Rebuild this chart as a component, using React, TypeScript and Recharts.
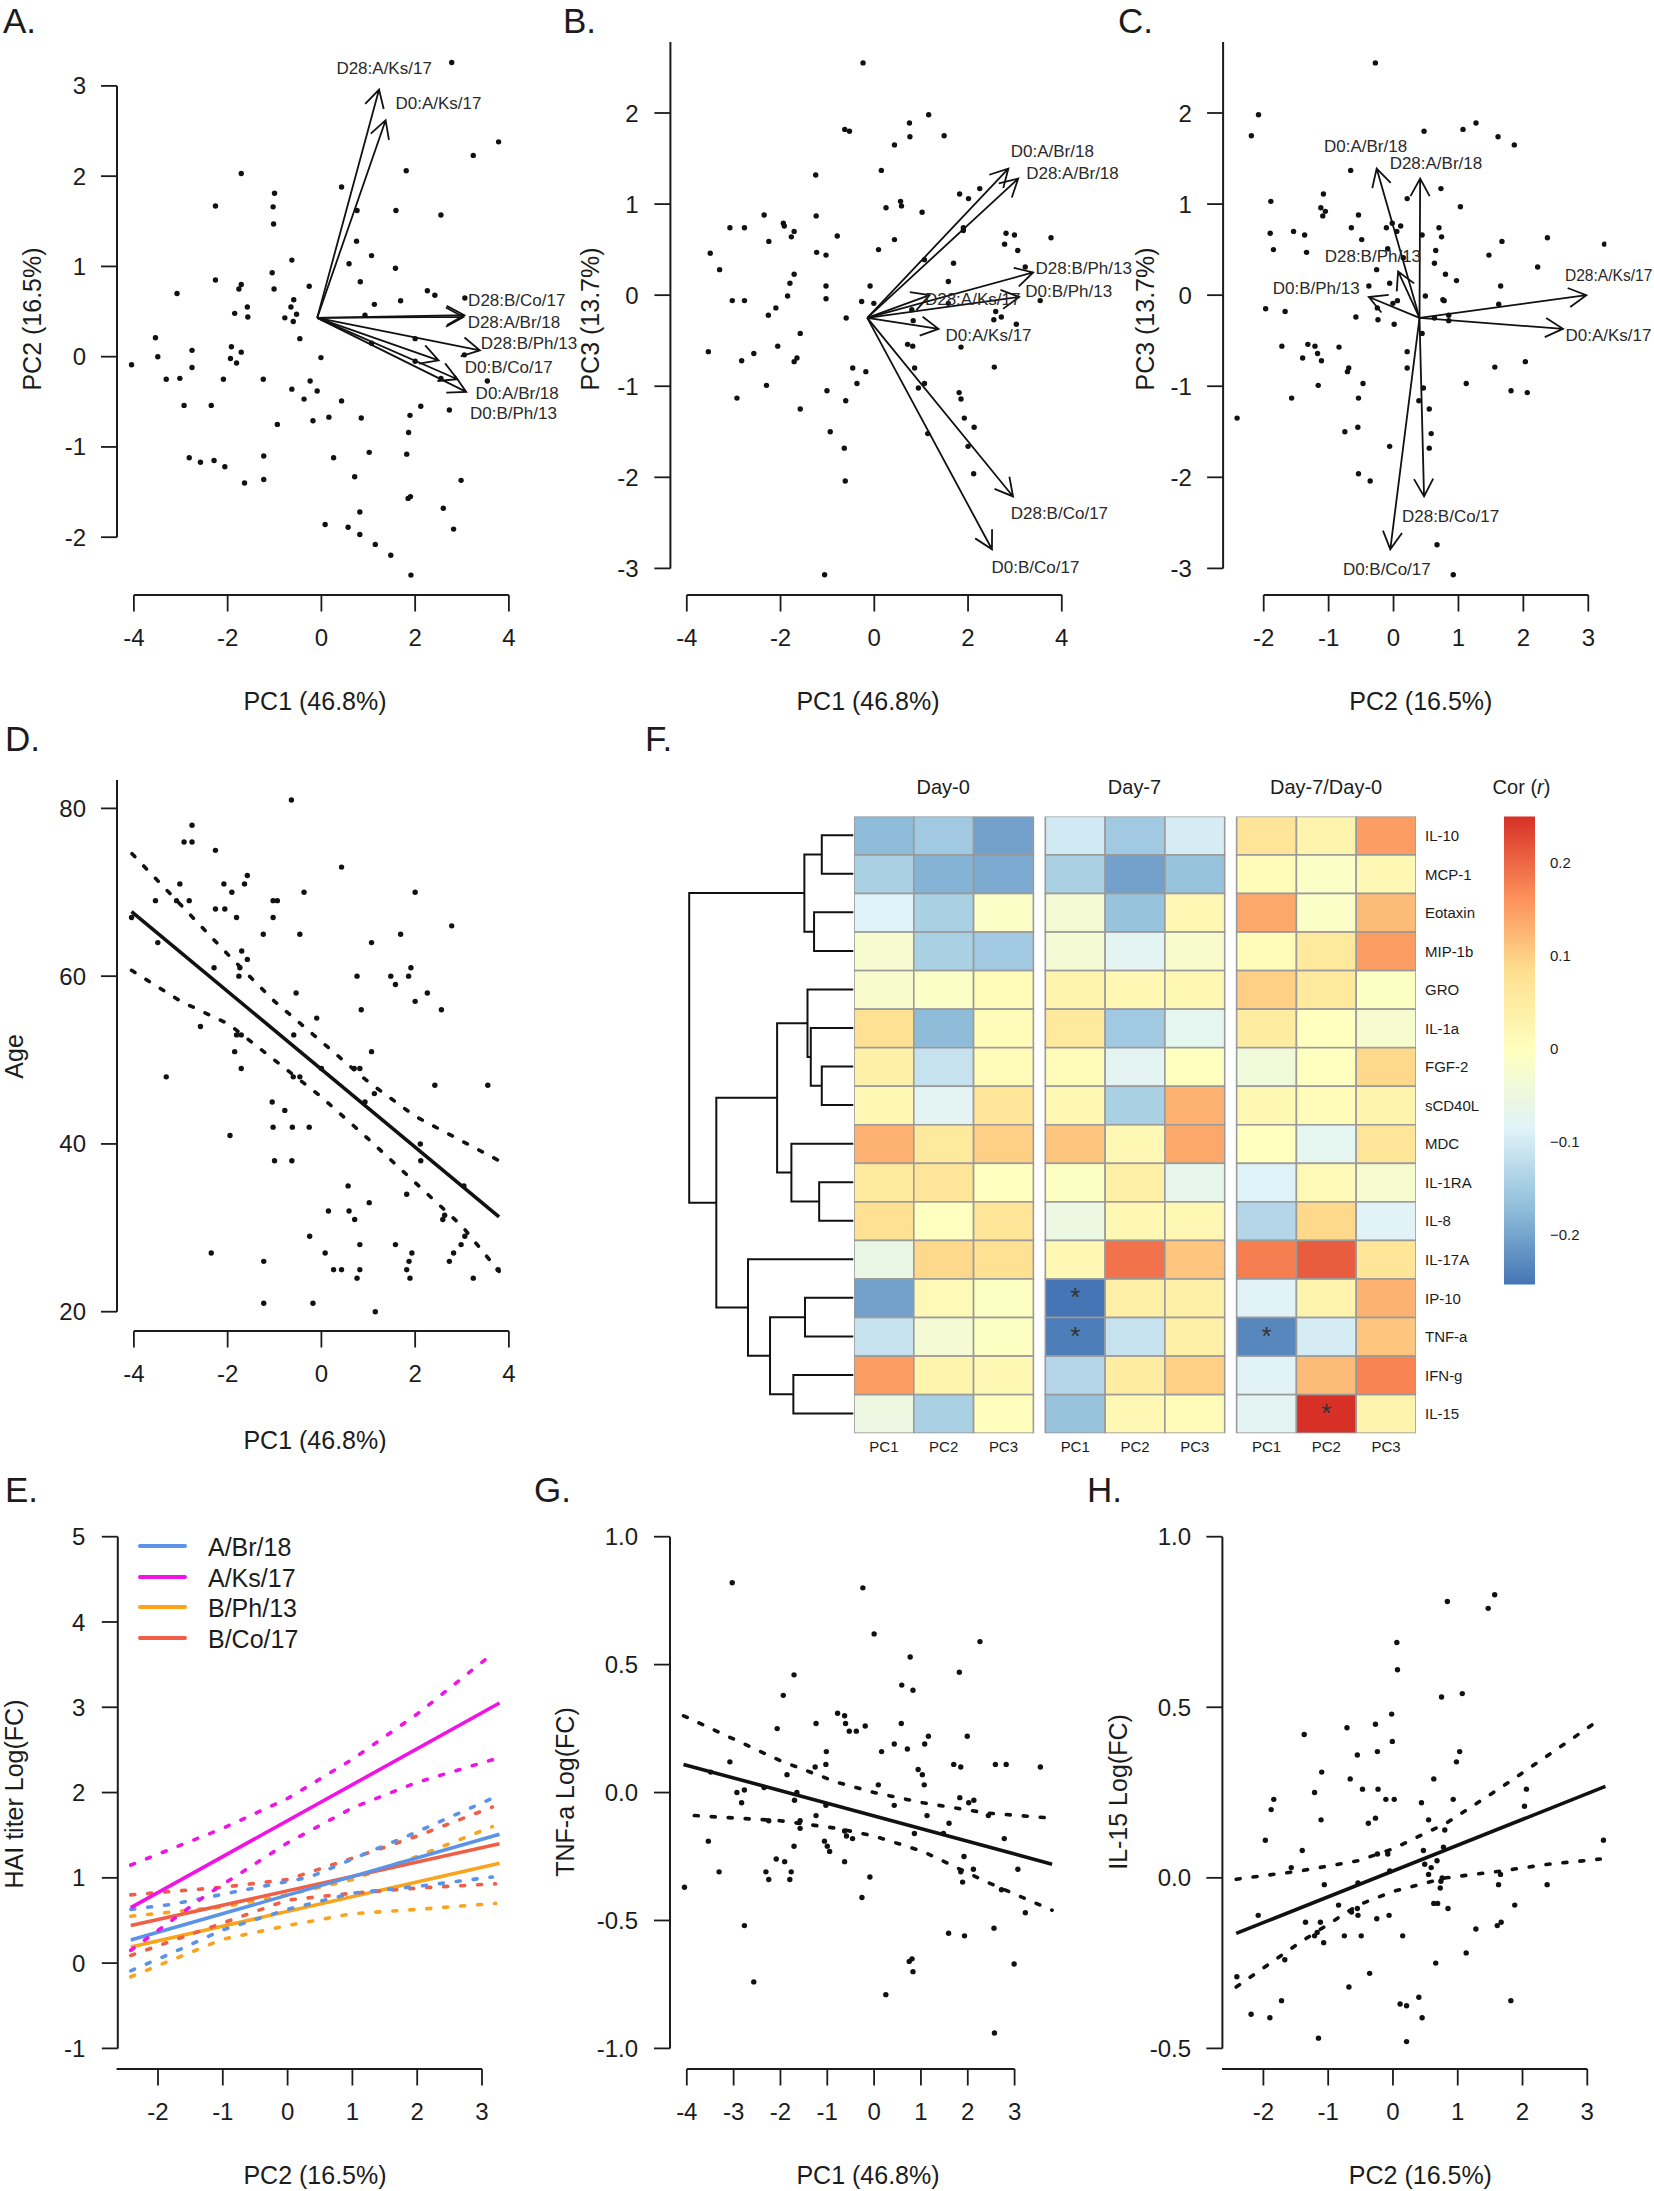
import { ComposedChart, Scatter, Line, XAxis, YAxis, ReferenceLine, ReferenceDot, ReferenceArea } from 'recharts';

const FONT = '"Liberation Sans", Arial, sans-serif';
const INK = '#1c1c1c';

type Pt = [number, number];

// panel A: PC1 vs PC2
const pc1pc2: Pt[] = [[2.78,3.26],[3.78,2.38],[3.24,2.23],[1.81,2.06],[-1.71,2.03],[0.43,1.88],[-1.0,1.81],[-2.26,1.67],[-1.03,1.66],[0.76,1.62],[1.59,1.62],[2.55,1.57],[-1.02,1.47],[0.75,1.28],[1.07,1.12],[-0.63,1.07],[0.59,1.03],[1.58,0.98],[-1.05,0.93],[-2.26,0.85],[0.83,0.83],[-1.71,0.8],[-0.26,0.78],[-1.01,0.75],[-1.76,0.75],[2.26,0.73],[-3.08,0.7],[2.42,0.68],[3.06,0.65],[-0.59,0.63],[1.69,0.62],[1.13,0.58],[-0.65,0.55],[-1.58,0.55],[-0.53,0.47],[-1.85,0.48],[0.93,0.46],[-1.57,0.44],[-0.78,0.43],[-0.6,0.39],[-0.46,0.2],[-3.54,0.21],[2.0,0.2],[-1.92,0.11],[1.07,0.15],[-2.76,0.07],[-1.71,0.05],[3.05,0.02],[-3.49,0],[-1.94,-0.02],[-0.01,-0.01],[2.0,-0.05],[-4.05,-0.09],[-1.81,-0.07],[-2.76,-0.12],[-3.31,-0.25],[-3.02,-0.24],[-2.09,-0.25],[-1.24,-0.25],[2.55,-0.24],[-0.24,-0.27],[3.54,-0.27],[-0.63,-0.36],[-0.09,-0.38],[-0.37,-0.47],[0.43,-0.49],[-2.93,-0.54],[-2.35,-0.54],[2.12,-0.55],[2.73,-0.59],[1.89,-0.65],[0.16,-0.67],[0.85,-0.68],[-0.18,-0.71],[-0.94,-0.75],[1.86,-0.84],[1.02,-1.06],[1.82,-1.08],[-1.23,-1.1],[-2.82,-1.12],[0.26,-1.12],[-2.58,-1.17],[-2.29,-1.15],[-2.06,-1.22],[0.71,-1.33],[-1.23,-1.36],[2.98,-1.37],[-1.64,-1.4],[1.9,-1.55],[1.85,-1.57],[2.6,-1.68],[0.82,-1.72],[0.08,-1.86],[0.57,-1.89],[2.82,-1.91],[0.82,-1.97],[1.15,-2.08],[1.48,-2.2],[1.91,-2.42]];

// panel B: PC1 vs PC3
const pc1pc3: Pt[] = [[-0.24,2.55],[1.16,1.98],[0.75,1.89],[-0.63,1.82],[-0.53,1.8],[0.76,1.74],[1.49,1.75],[0.43,1.65],[0.15,1.37],[-1.25,1.32],[2.25,1.17],[1.82,1.11],[2.01,1.06],[0.56,1.03],[0.58,0.98],[0.25,0.96],[1.02,0.91],[-2.35,0.88],[-1.24,0.87],[-1.94,0.79],[-1.92,0.76],[-3.08,0.74],[-2.77,0.74],[1.9,0.74],[1.9,0.71],[-1.71,0.7],[2.81,0.68],[2.99,0.66],[-0.79,0.65],[-1.77,0.64],[3.77,0.63],[0.43,0.61],[-2.25,0.59],[2.78,0.56],[0.09,0.5],[3.06,0.49],[-1.23,0.47],[-1.03,0.44],[-3.5,0.46],[1.07,0.39],[1.69,0.35],[-3.3,0.28],[3.22,0.31],[-1.71,0.23],[1.58,0.15],[-1.8,0.13],[-0.09,0.1],[-1.03,0.1],[-1.85,-0.01],[-1.03,-0.04],[-3.03,-0.06],[-2.77,-0.06],[-0.27,-0.07],[-0.01,-0.09],[1.58,-0.09],[-2.1,-0.14],[0.8,-0.16],[3.54,-0.06],[2.59,-0.18],[-2.26,-0.22],[2.71,-0.24],[2.55,-0.27],[-0.6,-0.25],[0.83,-0.28],[3.03,-0.32],[-1.58,-0.42],[0.71,-0.54],[0.82,-0.56],[-2.06,-0.56],[1.85,-0.57],[-3.54,-0.62],[-2.57,-0.64],[-1.65,-0.69],[-1.71,-0.73],[-2.83,-0.72],[2.56,-0.79],[-0.46,-0.8],[0.86,-0.8],[-0.18,-0.84],[-0.37,-0.97],[1.07,-0.97],[-2.3,-0.99],[0.94,-1.02],[-1.01,-1.05],[1.81,-1.07],[1.85,-1.14],[-2.93,-1.13],[-0.61,-1.16],[-1.58,-1.25],[1.92,-1.35],[2.13,-1.45],[-0.94,-1.5],[1.14,-1.52],[2.0,-1.66],[-0.64,-1.68],[2.12,-1.96],[-0.62,-2.04],[-1.06,-3.07]];

// panel C: PC2 vs PC3
const pc2pc3: Pt[] = [[-0.28,2.55],[-2.08,1.98],[-2.19,1.75],[0.47,1.8],[1.07,1.82],[1.27,1.89],[1.61,1.74],[1.86,1.65],[-0.66,1.37],[0.73,1.17],[-1.08,1.11],[0.21,1.06],[-1.89,1.03],[-1.12,0.96],[-1.05,0.92],[-1.09,0.87],[1.03,0.97],[-0.54,0.88],[-0.65,0.74],[-0.11,0.74],[-0.02,0.79],[0.11,0.76],[0.05,0.7],[0.7,0.74],[-1.9,0.68],[-1.54,0.7],[-1.37,0.66],[0.44,0.66],[0.74,0.64],[-0.49,0.61],[1.67,0.59],[2.37,0.63],[3.25,0.56],[-1.85,0.5],[-1.34,0.47],[-0.09,0.51],[0.65,0.49],[1.47,0.44],[0.15,0.41],[0.63,0.35],[2.22,0.31],[-0.26,0.28],[0.8,0.23],[0.97,0.16],[-0.06,0.13],[-0.38,0.1],[1.65,0.1],[0.49,-0.01],[0.76,-0.05],[0.78,-0.06],[0.06,-0.06],[-0.01,-0.09],[-0.25,-0.14],[1.62,-0.1],[-1.97,-0.15],[-1.67,-0.18],[-0.58,-0.24],[-0.24,-0.27],[0.63,-0.25],[0.85,-0.22],[0.85,-0.28],[0.01,-0.32],[0.44,-0.42],[-1.72,-0.56],[-1.32,-0.54],[-1.21,-0.56],[-0.84,-0.57],[-1.17,-0.64],[-1.4,-0.69],[-1.11,-0.72],[0.21,-0.62],[2.03,-0.73],[1.56,-0.79],[-0.69,-0.8],[-0.71,-0.84],[0.21,-0.8],[-0.47,-0.97],[1.12,-0.97],[-1.16,-0.99],[0.46,-1.02],[1.81,-1.05],[2.06,-1.07],[-1.57,-1.13],[-0.54,-1.13],[0.39,-1.16],[0.55,-1.25],[-2.41,-1.35],[-0.55,-1.45],[-0.75,-1.5],[0.58,-1.52],[-0.06,-1.66],[0.55,-1.68],[-0.54,-1.96],[-0.36,-2.04],[0.67,-2.74],[0.92,-3.07]];

// panel D: PC1 vs Age
const pc1age: Pt[] = [[-0.64,81],[-2.76,78],[-2.93,76],[-2.76,76],[-2.26,75],[0.43,73],[-1.58,72],[-2.08,71],[-1.64,71],[-3.02,71],[-1.91,70],[-0.37,70],[2.0,70],[-3.54,69],[-3.09,69],[-2.82,69],[-1.03,69],[-0.94,69],[-2.26,68],[-2.06,68],[-4.05,67],[-1.81,67],[-1.03,67],[2.78,66],[-1.24,65],[-0.46,65],[1.69,65],[-3.49,64],[1.07,64],[-1.7,63],[-1.58,62],[-2.29,61],[-1.74,61],[1.91,61],[-1.76,60],[0.76,60],[1.48,60],[1.86,60],[1.58,59],[-0.54,58],[2.26,58],[2.0,57],[0.85,56],[2.56,56],[-0.1,55],[-2.58,54],[-1.81,53],[-1.71,53],[-0.59,53],[-1.85,51],[1.07,51],[-1.71,49],[0,49],[0.7,49],[0.82,49],[-3.31,48],[-0.6,48],[-0.46,48],[2.42,47],[3.55,47],[1.13,46],[-1.05,45],[0.93,45],[-0.78,44],[-1.95,41],[-1.03,42],[-0.62,42],[-0.26,42],[2.11,40],[-1.0,38],[-0.63,38],[2.12,38],[0.57,35],[3.04,35],[1.82,34],[1.02,33],[0.15,32],[0.59,32],[2.63,31.5],[2.59,31],[0.71,31],[-0.25,29],[3.06,29],[0.82,28],[1.58,28],[2.98,28],[-2.35,27],[0.08,27],[1.93,27],[2.82,27],[-1.23,26],[1.87,26],[2.73,26],[0.26,25],[0.43,25],[0.82,25],[1.82,25],[3.77,25],[0.76,24],[1.89,24],[3.24,24],[-1.23,21],[-0.18,21],[1.15,20]];
const ageFit: Pt[] = [[-4.05,67.7],[3.79,31.3]];
const ageUpper: Pt[] = [[-4.04,74.6],[-3,68.5],[-1.98,62.5],[-1,57],[0,52.2],[1,47.4],[2,43.3],[3.79,38]];
const ageLower: Pt[] = [[-4.05,60.7],[-3,57],[-1.98,54.3],[-1,50],[0,45.6],[1,40.6],[2,35.4],[3,30.2],[3.79,24.8]];

// panel E: HAI titer fits
const strains = ['A/Br/18', 'A/Ks/17', 'B/Ph/13', 'B/Co/17'];
const strainColors = ['#5b93e8', '#f212e6', '#faa31b', '#ee5f45'];
const haiFit: Pt[][] = [
  [[-2.42,0.27],[3.27,1.51]],
  [[-2.42,0.65],[3.27,3.05]],
  [[-2.42,0.19],[3.27,1.17]],
  [[-2.42,0.44],[3.27,1.4]],
];
const haiUpper: Pt[][] = [
  [[-2.42,0.63],[-1.78,0.69],[0.35,1.01],[1.28,1.31],[1.94,1.52],[3.27,1.97]],
  [[-2.42,1.15],[-1,1.58],[0,1.93],[1,2.39],[2,2.92],[3.15,3.62]],
  [[-2.42,0.55],[-1,0.66],[0,0.8],[1,0.98],[2,1.25],[3.16,1.6]],
  [[-2.42,0.8],[-1,0.89],[0,0.98],[1,1.23],[2,1.49],[3.16,1.83]],
];
const haiLower: Pt[][] = [
  [[-2.42,-0.09],[-1.78,0.12],[-1,0.39],[0,0.63],[1,0.82],[2,0.9],[3.16,1.01]],
  [[-2.42,0.15],[-1.25,0.8],[0,1.41],[1,1.82],[2,2.12],[3.27,2.41]],
  [[-2.42,-0.16],[-1,0.28],[0,0.44],[1,0.58],[2,0.63],[3.21,0.7]],
  [[-2.42,0.09],[-1,0.47],[0,0.74],[1,0.82],[2,0.88],[3.21,0.93]],
];

// panel F: correlation heatmap, rows by [Day-0 x3, Day-7 x3, Day-7/Day-0 x3]
const cytokines = ['IL-10','MCP-1','Eotaxin','MIP-1b','GRO','IL-1a','FGF-2','sCD40L','MDC','IL-1RA','IL-8','IL-17A','IP-10','TNF-a','IFN-g','IL-15'];
const pcNames = ['PC1', 'PC2', 'PC3'];
const heatColumns = [0, 1, 2, 3.2, 4.2, 5.2, 6.4, 7.4, 8.4];
const heatValues = [
  [-0.17,-0.15,-0.2,-0.1,-0.15,-0.095,0.07,0.03,0.15],
  [-0.14,-0.18,-0.19,-0.14,-0.2,-0.16,0.01,-0.01,0.02],
  [-0.085,-0.14,-0.01,-0.03,-0.16,0.02,0.14,-0.01,0.12],
  [-0.025,-0.14,-0.15,-0.03,-0.075,-0.02,0.01,0.06,0.15],
  [-0.02,-0.01,0.01,0.03,0.02,0.02,0.1,0.06,-0.005],
  [0.08,-0.17,0.01,0.06,-0.15,-0.07,0.05,0,-0.025],
  [0.04,-0.11,0.01,0.01,-0.075,0,-0.04,0,0.09],
  [0.02,-0.075,0.07,0.02,-0.14,0.13,0.02,0.01,0.03],
  [0.13,0.06,0.1,0.11,0.02,0.14,0,-0.07,0.07],
  [0.06,0.07,0,-0.005,0.04,-0.065,-0.085,0.015,-0.025],
  [0.08,0,0.07,-0.05,0.02,0.02,-0.13,0.09,-0.08],
  [-0.055,0.09,0.08,0.02,0.19,0.11,0.18,0.21,0.07],
  [-0.2,0.015,-0.005,-0.25,0.04,0.04,-0.08,0.03,0.13],
  [-0.11,-0.03,-0.005,-0.24,-0.11,0.04,-0.23,-0.095,0.11],
  [0.15,0.03,0.02,-0.13,0.05,0.1,-0.08,0.12,0.175],
  [-0.05,-0.14,0.005,-0.16,0.02,0.01,-0.075,0.25,0.03],
];
// [row, column] of the cells with a star
const heatStars = [[12,3],[13,3],[13,6],[15,7]];
const heatStops = ['#4575b4','#91bfdb','#e0f3f8','#ffffbf','#fee090','#fc8d59','#d73027'];
const corTicks = [-0.2,-0.1,0,0.1,0.2];
// dendrogram merges: [rowA, heightA, rowB, heightB, height]
const dendro = [
  [0,0,1,0,0.193],
  [2,0,3,0,0.24],
  [0.5,0.193,2.5,0.24,0.299],
  [6,0,7,0,0.193],
  [5,0,6.5,0.193,0.26],
  [4,0,5.75,0.26,0.28],
  [9,0,10,0,0.209],
  [8,0,9.5,0.209,0.378],
  [4.875,0.28,8.75,0.378,0.465],
  [12,0,13,0,0.295],
  [14,0,15,0,0.366],
  [12.5,0.295,14.5,0.366,0.508],
  [11,0,13.5,0.508,0.642],
  [6.81,0.465,12.25,0.642,0.835],
  [1.5,0.299,9.53,0.835,1],
];

// panel G: PC1 vs TNF-a
const pc1tnf: Pt[] = [[-3.03,0.82],[-0.24,0.8],[0,0.62],[2.26,0.59],[0.77,0.53],[1.82,0.47],[-1.71,0.46],[0.59,0.42],[0.83,0.4],[-1.94,0.38],[-0.78,0.31],[-0.63,0.3],[-0.61,0.27],[-1.24,0.27],[0.58,0.27],[-0.19,0.26],[-2.07,0.25],[-0.53,0.24],[-0.38,0.24],[1.16,0.22],[1.99,0.22],[0.43,0.19],[1.08,0.19],[0.71,0.17],[0.16,0.16],[-1.02,0.16],[-1.03,0.11],[-3.08,0.12],[1.7,0.11],[1.85,0.1],[2.59,0.11],[2.82,0.11],[3.55,0.1],[-1.26,0.1],[0.94,0.09],[-3.49,0.08],[-1.86,0.07],[1.03,0.07],[1.07,0.03],[0.09,0.03],[-2.35,0.02],[-2.77,0.01],[-2.93,0],[-1.65,0],[1.83,-0.02],[2.13,-0.03],[-2.83,-0.04],[-1.7,-0.03],[2.02,-0.04],[0.43,-0.05],[-1.03,-0.05],[-1.24,-0.09],[1.13,-0.09],[2.44,-0.09],[-2.25,-0.11],[-1.58,-0.11],[1.6,-0.12],[-1.58,-0.14],[-0.63,-0.15],[0.86,-0.16],[-0.59,-0.17],[1.48,-0.16],[-3.54,-0.19],[2.78,-0.18],[-0.46,-0.18],[-1.06,-0.19],[-1.0,-0.21],[-1.71,-0.21],[-0.95,-0.23],[1.92,-0.25],[-2.09,-0.26],[-1.91,-0.27],[-0.63,-0.27],[2.12,-0.3],[3.07,-0.3],[-2.31,-0.31],[-1.77,-0.31],[-3.31,-0.31],[1.85,-0.31],[-2.25,-0.34],[-1.8,-0.34],[-0.09,-0.33],[1.89,-0.35],[-4.05,-0.37],[2.72,-0.38],[-0.26,-0.41],[3.23,-0.47],[-2.77,-0.52],[2.56,-0.53],[1.59,-0.55],[1.93,-0.56],[0.75,-0.66],[0.81,-0.65],[2.99,-0.67],[0.83,-0.7],[-2.57,-0.74],[0.25,-0.79],[2.57,-0.94]];
const tnfFit: Pt[] = [[-4.07,0.11],[3.8,-0.28]];
const tnfUpper: Pt[] = [[-4.07,0.3],[-2.01,0.125],[-0.79,0.04],[0,0],[1.04,-0.04],[2.41,-0.08],[3.8,-0.1]];
const tnfLower: Pt[] = [[-3.84,-0.09],[-2.01,-0.11],[-0.79,-0.14],[0,-0.17],[1.04,-0.23],[2.41,-0.35],[3.8,-0.46]];

// panel H: PC2 vs IL-15
const pc2il15: Pt[] = [[1.57,0.83],[0.84,0.81],[1.47,0.79],[0.06,0.69],[0.07,0.61],[1.07,0.54],[0.75,0.53],[-0.02,0.48],[-0.27,0.45],[-0.71,0.44],[-1.37,0.42],[-0.01,0.4],[-0.24,0.37],[1.03,0.37],[-0.55,0.36],[0.98,0.34],[-1.1,0.31],[-0.66,0.29],[0.63,0.29],[-0.47,0.26],[-0.23,0.26],[2.06,0.26],[-1.21,0.25],[-1.84,0.23],[0.93,0.23],[-0.11,0.23],[0.02,0.23],[0.44,0.22],[2.03,0.21],[-1.88,0.2],[-1.11,0.17],[-0.27,0.175],[0.55,0.17],[-0.38,0.16],[0.8,0.14],[-1.97,0.11],[3.25,0.11],[0.78,0.09],[-1.4,0.08],[0.47,0.08],[-0.24,0.07],[-0.08,0.07],[0.49,0.04],[0.68,0.05],[-1.57,0.03],[0.59,0.03],[-0.05,0.02],[1.66,0.01],[0.55,0.01],[0.76,0],[0.74,-0.01],[-0.54,-0.015],[-1.06,-0.02],[1.63,-0.02],[2.38,-0.02],[0.73,-0.03],[-0.84,-0.08],[0.63,-0.075],[0.69,-0.075],[0.85,-0.09],[1.88,-0.08],[-0.64,-0.1],[-0.55,-0.09],[-0.54,-0.11],[-0.06,-0.11],[-2.08,-0.11],[-0.25,-0.12],[-1.35,-0.13],[-1.12,-0.13],[1.67,-0.13],[1.61,-0.14],[1.28,-0.15],[-1.17,-0.16],[-1.21,-0.17],[-0.75,-0.17],[-0.49,-0.17],[0.15,-0.17],[-1.07,-0.19],[1.13,-0.22],[-1.67,-0.24],[0.66,-0.25],[-0.36,-0.28],[-2.41,-0.29],[-0.68,-0.32],[0.4,-0.35],[-1.72,-0.36],[1.82,-0.36],[0.11,-0.37],[0.21,-0.375],[-2.19,-0.4],[-1.9,-0.41],[0.45,-0.41],[-1.15,-0.47],[0.21,-0.48]];
const il15Fit: Pt[] = [[-2.42,-0.163],[3.28,0.268]];
const il15Upper: Pt[] = [[-2.42,-0.004],[-1.44,0.02],[-0.54,0.05],[0,0.085],[0.82,0.16],[1.67,0.265],[2.4,0.36],[3.2,0.465]];
const il15Lower: Pt[] = [[-2.42,-0.32],[-1.44,-0.19],[-0.54,-0.08],[0,-0.04],[0.82,0],[1.67,0.02],[2.4,0.04],[3.2,0.055]];

// loading arrows: name, tip x, tip y
const arrowNames = ['D28:A/Ks/17','D0:A/Ks/17','D28:B/Co/17','D28:A/Br/18','D28:B/Ph/13','D0:B/Co/17','D0:A/Br/18','D0:B/Ph/13'];
const arrowTipsA: Pt[] = [[1.23,2.96],[1.37,2.62],[3.05,0.46],[3.03,0.44],[3.38,0.07],[2.5,-0.04],[3.09,-0.39],[2.9,-0.25]];
const arrowTipsB: Pt[] = [[1.18,0],[1.37,-0.37],[2.96,-2.21],[3.07,1.28],[3.39,0.25],[2.51,-2.79],[2.86,1.39],[3.09,-0.02]];
const arrowTipsC: Pt[] = [[2.97,0],[2.61,-0.37],[0.47,-2.21],[0.41,1.28],[0.07,0.26],[-0.05,-2.79],[-0.26,1.39],[-0.38,-0.02]];
const arrowTextA: Pt[] = [[0.32,3.2],[1.58,2.81],[3.13,0.63],[3.12,0.38],[3.4,0.15],[3.06,-0.12],[3.29,-0.4],[3.17,-0.62]];
const arrowTextB: Pt[] = [[1.08,-0.04],[1.52,-0.44],[2.91,-2.39],[3.24,1.34],[3.44,0.3],[2.5,-2.98],[2.91,1.58],[3.22,0.05]];
const arrowTextC: Pt[] = [[2.64,0.22],[2.65,-0.44],[0.13,-2.42],[-0.06,1.45],[-1.06,0.43],[-0.78,-3.01],[-1.07,1.64],[-1.86,0.08]];

const toRows = (pts: Pt[]) => pts.map(([x, y]) => ({ x, y }));

const Dot = (p: any) => <circle cx={p.cx} cy={p.cy} r={2.7} fill="#111" />;

const ArrowShape = (p: any) => {
  const a = Math.atan2(p.y2 - p.y1, p.x2 - p.x1);
  const len = 20;
  const spread = 0.5;
  const hx = (s: number) => p.x2 - len * Math.cos(a + s * spread);
  const hy = (s: number) => p.y2 - len * Math.sin(a + s * spread);
  return (
    <path
      d={`M${p.x1},${p.y1}L${p.x2},${p.y2}M${hx(1)},${hy(1)}L${p.x2},${p.y2}L${hx(-1)},${hy(-1)}`}
      fill="none"
      stroke="#111"
      strokeWidth={1.8}
    />
  );
};

function fitLines(fit: Pt[], upper: Pt[], lower: Pt[], color = '#111', key = 'f') {
  return [
    <Line key={key + 'u'} data={toRows(upper)} dataKey="y" stroke={color} strokeWidth={3.6} strokeLinecap="round" strokeDasharray="4 13" dot={false} activeDot={false} isAnimationActive={false} />,
    <Line key={key + 'l'} data={toRows(lower)} dataKey="y" stroke={color} strokeWidth={3.6} strokeLinecap="round" strokeDasharray="4 13" dot={false} activeDot={false} isAnimationActive={false} />,
    <Line key={key + 'm'} data={toRows(fit)} dataKey="y" stroke={color} strokeWidth={3.6} dot={false} activeDot={false} isAnimationActive={false} />,
  ];
}

function arrows(origin: Pt, tips: Pt[], texts: Pt[], narrowFirst = false) {
  return arrowNames.flatMap((name, i) => [
    <ReferenceLine
      key={'a' + i}
      ifOverflow="visible"
      segment={[{ x: origin[0], y: origin[1] }, { x: tips[i][0], y: tips[i][1] }]}
      shape={ArrowShape}
    />,
    <ReferenceDot
      key={'t' + i}
      x={texts[i][0]}
      y={texts[i][1]}
      ifOverflow="visible"
      shape={(p: any) => (
        <text x={p.cx} y={p.cy} dy="0.35em" fontSize={narrowFirst && i === 0 ? 15.6 : 17} fontFamily={FONT} fill="#2a2a2a">{name}</text>
      )}
    />,
  ]);
}

interface PanelProps {
  box: { left: number; right: number; top: number; bottom: number };
  xTicks: number[];
  xAt: [number, number];
  yTicks: number[];
  yAt: [number, number];
  xLabel: string;
  yLabel: string;
  xTitleX: number;
  xTitleY: number;
  yTitleX: number;
  yTitleY: number;
  yLabelRight: number;
  xAxisFrom?: number;
  yAxisTop?: boolean;
  tickFormat?: (v: number) => string;
  children?: any;
}

// base-R look: detached axes that span the ticks only
function Panel(props: PanelProps) {
  const { box, xTicks, xAt, yTicks, yAt, tickFormat } = props;
  const xUnit = (xAt[1] - xAt[0]) / (xTicks[xTicks.length - 1] - xTicks[0]);
  const yUnit = (yAt[0] - yAt[1]) / (yTicks[yTicks.length - 1] - yTicks[0]);
  const xDomain = [xTicks[0] + (box.left - xAt[0]) / xUnit, xTicks[0] + (box.right - xAt[0]) / xUnit];
  const yDomain = [yTicks[0] - (box.bottom - yAt[0]) / yUnit, yTicks[0] + (yAt[0] - box.top) / yUnit];
  const chartLeft = Math.max(0, props.yTitleX - 18);
  const leftSpace = box.left - chartLeft;
  const rightSpace = Math.min(90, 1654 - box.right);
  const bottomSpace = 122;
  return (
    <div style={{ position: 'absolute', left: chartLeft, top: box.top - 10 }}>
      <ComposedChart
        width={leftSpace + box.right - box.left + rightSpace}
        height={box.bottom - box.top + 10 + bottomSpace}
        margin={{ top: 10, right: rightSpace, bottom: 0, left: 0 }}
        style={{ fontFamily: FONT }}
      >
        <XAxis
          type="number"
          dataKey="x"
          domain={xDomain}
          allowDataOverflow
          ticks={xTicks}
          interval={0}
          height={bottomSpace}
          axisLine={false}
          tickSize={16.5}
          tickMargin={17}
          tickLine={{ stroke: INK, strokeWidth: 1.8 }}
          tick={{ fontSize: 24, fill: INK }}
        />
        <YAxis
          type="number"
          dataKey="y"
          domain={yDomain}
          allowDataOverflow
          ticks={yTicks}
          interval={0}
          width={leftSpace}
          axisLine={false}
          tickSize={16}
          tickMargin={box.left - 16 - props.yLabelRight}
          tickLine={{ stroke: INK, strokeWidth: 1.8 }}
          tick={{ fontSize: 24, fill: INK }}
          tickFormatter={tickFormat}
        />
        <ReferenceLine
          ifOverflow="visible"
          stroke={INK}
          strokeWidth={2}
          segment={[{ x: props.xAxisFrom ?? xTicks[0], y: yDomain[0] }, { x: xTicks[xTicks.length - 1], y: yDomain[0] }]}
        />
        <ReferenceLine
          ifOverflow="visible"
          stroke={INK}
          strokeWidth={2}
          segment={[{ x: xDomain[0], y: yTicks[0] }, { x: xDomain[0], y: props.yAxisTop ? yDomain[1] : yTicks[yTicks.length - 1] }]}
        />
        {props.children}
        <text x={props.xTitleX - chartLeft} y={props.xTitleY - box.top + 10} dy="0.35em" textAnchor="middle" fontSize={25} fontFamily={FONT} fill={INK}>{props.xLabel}</text>
        <text
          transform={`translate(${props.yTitleX - chartLeft},${props.yTitleY - box.top + 10}) rotate(-90)`}
          dy="0.35em"
          textAnchor="middle"
          fontSize={25}
          fontFamily={FONT}
          fill={INK}
        >
          {props.yLabel}
        </text>
      </ComposedChart>
    </div>
  );
}

function heatColor(v: number) {
  const t = Math.max(0, Math.min(0.9999, (v + 0.25) / 0.5)) * (heatStops.length - 1);
  const i = Math.floor(t);
  const mix = (s: string, o: number) => parseInt(s.slice(o, o + 2), 16);
  const c = [1, 3, 5].map((o) => Math.round(mix(heatStops[i], o) + (mix(heatStops[i + 1], o) - mix(heatStops[i], o)) * (t - i)));
  return `rgb(${c.join(',')})`;
}

const heatCells = heatValues.flatMap((row, y) =>
  row.map((r, c) => ({ x: heatColumns[c], y, r, star: heatStars.some((s) => s[0] === y && s[1] === c) })),
);

const CELL_W = 59.8;
const CELL_H = 38.55;

const HeatCell = (p: any) => (
  <g>
    <rect x={p.cx - CELL_W / 2} y={p.cy - CELL_H / 2} width={CELL_W} height={CELL_H} fill={heatColor(p.payload.r)} stroke="#9a9a9a" strokeWidth={1.6} />
    {p.payload.star && (
      <text x={p.cx} y={p.cy + 8} textAnchor="middle" fontSize={26} fontFamily={FONT} fill="#333">*</text>
    )}
  </g>
);

function Heatmap() {
  const left = 853.5;
  const top = 730;
  const plotTop = 816.4;
  const plotH = 616.8;
  const topSpace = plotTop - top;
  return (
    <div style={{ position: 'absolute', left, top }}>
      <ComposedChart width={640} height={topSpace + plotH + 30} margin={{ top: topSpace, right: 0, bottom: 0, left: 0 }} style={{ fontFamily: FONT }}>
        <XAxis
          type="number"
          dataKey="x"
          domain={[-0.5, 8.9]}
          allowDataOverflow
          ticks={heatColumns}
          interval={0}
          height={30}
          axisLine={false}
          tickLine={false}
          tickMargin={2}
          tick={{ fontSize: 15, fill: INK }}
          tickFormatter={(_v: number, i: number) => pcNames[i % 3]}
        />
        <YAxis
          type="number"
          dataKey="y"
          orientation="right"
          reversed
          domain={[-0.5, 15.5]}
          allowDataOverflow
          ticks={cytokines.map((_, i) => i)}
          interval={0}
          width={78}
          axisLine={false}
          tickLine={false}
          tickMargin={3}
          tick={{ fontSize: 15, fill: INK }}
          tickFormatter={(_v: number, i: number) => cytokines[i]}
        />
        <Scatter data={heatCells} shape={HeatCell} isAnimationActive={false} />
        <text x={942.7 - left} y={786.6 - top} dy="0.35em" textAnchor="middle" fontSize={20} fontFamily={FONT} fill={INK}>Day-0</text>
        <text x={1134 - left} y={786.6 - top} dy="0.35em" textAnchor="middle" fontSize={20} fontFamily={FONT} fill={INK}>Day-7</text>
        <text x={1325.6 - left} y={786.6 - top} dy="0.35em" textAnchor="middle" fontSize={20} fontFamily={FONT} fill={INK}>Day-7/Day-0</text>
      </ComposedChart>
    </div>
  );
}

function Dendrogram() {
  return (
    <div style={{ position: 'absolute', left: 680, top: 816.4 }}>
      <ComposedChart width={173.5} height={616.8} margin={{ top: 0, right: 0, bottom: 0, left: 0 }}>
        <XAxis type="number" dataKey="h" hide reversed domain={[0, 1.056]} allowDataOverflow />
        <YAxis type="number" dataKey="row" hide reversed domain={[-0.5, 15.5]} allowDataOverflow />
        {dendro.map(([a, ha, b, hb, h], i) => (
          <Line
            key={i}
            data={[{ h: ha, row: a }, { h, row: a }, { h, row: b }, { h: hb, row: b }]}
            dataKey="row"
            stroke="#111"
            strokeWidth={2}
            dot={false}
            activeDot={false}
            isAnimationActive={false}
          />
        ))}
      </ComposedChart>
    </div>
  );
}

function ColorBar() {
  const barLeft = 1503.5;
  const pad = 30;
  return (
    <div style={{ position: 'absolute', left: barLeft - pad, top: 770 }}>
      <ComposedChart width={pad + 31 + 69} height={1284.5 - 770} margin={{ top: 46.4, right: 0, bottom: 0, left: pad }} style={{ fontFamily: FONT }}>
        <defs>
          <linearGradient id="corGrad" x1="0" y1="1" x2="0" y2="0">
            {heatStops.map((c, i) => (
              <stop key={c} offset={i / (heatStops.length - 1)} stopColor={c} />
            ))}
          </linearGradient>
        </defs>
        <XAxis type="number" dataKey="x" hide domain={[0, 1]} allowDataOverflow />
        <YAxis
          type="number"
          dataKey="y"
          orientation="right"
          domain={[-0.2535, 0.25]}
          allowDataOverflow
          ticks={corTicks}
          interval={0}
          width={69}
          axisLine={false}
          tickLine={false}
          tickMargin={9}
          tick={{ fontSize: 15, fill: INK }}
          tickFormatter={(v: number) => (v === 0 ? '0' : String(v).replace('-', '\u2212'))}
        />
        <ReferenceArea x1={0} x2={1} y1={-0.2535} y2={0.25} fill="url(#corGrad)" fillOpacity={1} stroke="none" ifOverflow="visible" />
        <text x={pad + 17.5} y={16.6} dy="0.35em" textAnchor="middle" fontSize={20} fontFamily={FONT} fill={INK}>
          Cor (<tspan fontStyle="italic">r</tspan>)
        </text>
      </ComposedChart>
    </div>
  );
}

const panelLetters: [string, number, number][] = [
  ['A.', 3, 32], ['B.', 563, 32], ['C.', 1118, 32], ['D.', 5, 750], ['F.', 645, 750], ['E.', 5, 1501], ['G.', 534, 1501], ['H.', 1087, 1501],
];

export default function App() {
  return (
    <div style={{ position: 'absolute', left: 0, top: 0, width: 1654, height: 2191, background: '#fff', fontFamily: FONT, overflow: 'hidden' }}>
      {panelLetters.map(([t, x, y]) => (
        <div key={t} style={{ position: 'absolute', left: x, top: y - 32, fontSize: 35, lineHeight: '41px', color: INK }}>{t}</div>
      ))}

      <Panel box={{ left: 117, right: 513, top: 43, bottom: 595 }} xTicks={[-4,-2,0,2,4]} xAt={[133.9,508.9]} yTicks={[-2,-1,0,1,2,3]} yAt={[537.2,85.9]}
        xLabel="PC1 (46.8%)" yLabel="PC2 (16.5%)" xTitleX={315} xTitleY={701.5} yTitleX={32} yTitleY={319} yLabelRight={86}>
        <Scatter data={toRows(pc1pc2)} shape={Dot} isAnimationActive={false} />
        {arrows([-0.09,0.43], arrowTipsA, arrowTextA)}
      </Panel>

      <Panel box={{ left: 670.4, right: 1066, top: 42, bottom: 595 }} xTicks={[-4,-2,0,2,4]} xAt={[686.8,1061.8]} yTicks={[-3,-2,-1,0,1,2]} yAt={[568.4,113]}
        xLabel="PC1 (46.8%)" yLabel="PC3 (13.7%)" xTitleX={868} xTitleY={701.5} yTitleX={590} yTitleY={319} yLabelRight={638.6} yAxisTop>
        <Scatter data={toRows(pc1pc3)} shape={Dot} isAnimationActive={false} />
        {arrows([-0.15,-0.25], arrowTipsB, arrowTextB)}
      </Panel>

      <Panel box={{ left: 1222.8, right: 1606, top: 42, bottom: 595 }} xTicks={[-2,-1,0,1,2,3]} xAt={[1263.4,1588]} yTicks={[-3,-2,-1,0,1,2]} yAt={[568.4,113]}
        xLabel="PC2 (16.5%)" yLabel="PC3 (13.7%)" xTitleX={1420.5} xTitleY={701.5} yTitleX={1144.7} yTitleY={319} yLabelRight={1191.5} yAxisTop>
        <Scatter data={toRows(pc2pc3)} shape={Dot} isAnimationActive={false} />
        {arrows([0.4,-0.25], arrowTipsC, arrowTextC, true)}
      </Panel>

      <Panel box={{ left: 117, right: 513, top: 779.6, bottom: 1330.6 }} xTicks={[-4,-2,0,2,4]} xAt={[133.9,508.9]} yTicks={[20,40,60,80]} yAt={[1311.3,808]}
        xLabel="PC1 (46.8%)" yLabel="Age" xTitleX={315} xTitleY={1439.4} yTitleX={14} yTitleY={1056} yLabelRight={86} yAxisTop>
        {fitLines(ageFit, ageUpper, ageLower)}
        <Scatter data={toRows(pc1age)} shape={Dot} isAnimationActive={false} />
      </Panel>

      <Dendrogram />
      <Heatmap />
      <ColorBar />

      <Panel box={{ left: 117.8, right: 512, top: 1516, bottom: 2069 }} xTicks={[-2,-1,0,1,2,3]} xAt={[158,482]} yTicks={[-1,0,1,2,3,4,5]} yAt={[2048.4,1536.7]}
        xLabel="PC2 (16.5%)" yLabel="HAI titer Log(FC)" xTitleX={315} xTitleY={2175.7} yTitleX={14} yTitleY={1794} yLabelRight={85.4} xAxisFrom={-2.64}>
        {[2, 3, 0, 1].flatMap((s) => fitLines(haiFit[s], haiUpper[s], haiLower[s], strainColors[s], 's' + s))}
      </Panel>
      {strains.map((name, i) => (
        <div key={name}>
          <div style={{ position: 'absolute', left: 138, top: 1544.3 + i * 30.5, width: 49, height: 4, borderRadius: 2, background: strainColors[i] }} />
          <div style={{ position: 'absolute', left: 208, top: 1547 + i * 30.5 - 15, fontSize: 25, lineHeight: '30px', color: INK }}>{name}</div>
        </div>
      ))}

      <Panel box={{ left: 670, right: 1066, top: 1516, bottom: 2069 }} xTicks={[-4,-3,-2,-1,0,1,2,3]} xAt={[686.8,1014.6]} yTicks={[-1,-0.5,0,0.5,1]} yAt={[2048.4,1536.7]}
        xLabel="PC1 (46.8%)" yLabel="TNF-a Log(FC)" xTitleX={868} xTitleY={2175.7} yTitleX={565} yTitleY={1792} yLabelRight={638} tickFormat={(v) => v.toFixed(1)}>
        {fitLines(tnfFit, tnfUpper, tnfLower)}
        <Scatter data={toRows(pc1tnf)} shape={Dot} isAnimationActive={false} />
      </Panel>

      <Panel box={{ left: 1222.4, right: 1606, top: 1516, bottom: 2069 }} xTicks={[-2,-1,0,1,2,3]} xAt={[1263.4,1587.3]} yTicks={[-0.5,0,0.5,1]} yAt={[2048.4,1536.7]}
        xLabel="PC2 (16.5%)" yLabel="IL-15 Log(FC)" xTitleX={1420.4} xTitleY={2175.7} yTitleX={1118} yTitleY={1792} yLabelRight={1191} xAxisFrom={-2.64} tickFormat={(v) => v.toFixed(1)}>
        {fitLines(il15Fit, il15Upper, il15Lower)}
        <Scatter data={toRows(pc2il15)} shape={Dot} isAnimationActive={false} />
      </Panel>
    </div>
  );
}
